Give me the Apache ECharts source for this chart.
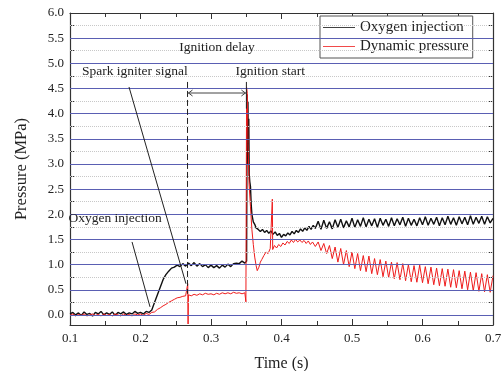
<!DOCTYPE html>
<html><head><meta charset="utf-8">
<script src="https://cdn.jsdelivr.net/npm/echarts@6/dist/echarts.min.js"></script>
<style>html,body{margin:0;padding:0;background:#fff}#c{width:504px;height:371px}</style>
</head><body><div id="c"></div>
<script>
// ---- data ----
const seriesNames = ['Oxygen injection', 'Dynamic pressure'];
const yMajorTicks = [0, 0.5, 1.0, 1.5, 2.0, 2.5, 3.0, 3.5, 4.0, 4.5, 5.0, 5.5, 6.0];
const yMinorTicks = [0.25, 0.75, 1.25, 1.75, 2.25, 2.75, 3.25, 3.75, 4.25, 4.75, 5.25, 5.75];
const xRange = [0.1, 0.7];
const yRange = [-0.2, 6.0];

const oxygenInjection = [
[0.100,0.02],[0.104,0.05],[0.108,0.00],[0.112,0.04],[0.116,-0.01],[0.120,0.06],[0.124,0.01],[0.128,0.03],[0.132,-0.02],[0.136,0.05],
[0.140,0.02],[0.144,0.07],[0.148,0.00],[0.152,0.04],[0.156,0.01],[0.160,0.06],[0.164,-0.01],[0.168,0.05],[0.172,0.02],[0.176,0.06],
[0.180,0.01],[0.184,0.04],[0.188,0.02],[0.192,0.07],[0.196,0.03],[0.200,0.05],[0.204,0.02],[0.208,0.07],[0.212,0.05],[0.216,0.10],
[0.220,0.25],[0.224,0.40],[0.228,0.55],[0.232,0.70],[0.236,0.80],[0.240,0.87],[0.244,0.93],[0.248,0.95],[0.252,0.99],[0.256,0.96],
[0.260,1.02],[0.264,0.97],[0.268,1.03],[0.272,0.98],[0.276,1.04],[0.280,0.97],[0.284,1.02],[0.288,0.96],[0.292,1.00],[0.296,0.94],
[0.300,0.99],[0.304,0.94],[0.308,0.98],[0.312,0.93],[0.316,0.99],[0.320,0.95],[0.324,1.01],[0.328,0.96],[0.332,1.02],[0.336,1.03],
[0.340,1.02],[0.344,1.07],[0.348,1.03],[0.3505,1.07],[0.3512,4.38],[0.3518,3.2],[0.3524,4.25],[0.3530,3.0],[0.3536,3.9],[0.3542,2.8],
[0.3550,2.65],[0.3560,2.55],[0.3570,2.2],[0.3580,2.0],[0.360,1.85],[0.362,1.80],[0.364,1.73],[0.367,1.70],[0.370,1.66],[0.373,1.70],
[0.376,1.64],[0.379,1.68],[0.382,1.62],[0.385,1.67],[0.388,1.60],[0.391,1.65],[0.394,1.58],[0.397,1.62],[0.400,1.54],[0.403,1.60],
[0.406,1.57],[0.409,1.63],[0.412,1.59],[0.415,1.66],[0.418,1.61],[0.421,1.68],[0.424,1.64],[0.427,1.71],[0.430,1.66],[0.433,1.73],
[0.436,1.68],[0.439,1.76],[0.442,1.70],[0.445,1.78],[0.448,1.72],
[0.452,1.86],[0.456,1.70],[0.460,1.88],[0.464,1.72],[0.468,1.85],[0.472,1.71],[0.476,1.89],[0.480,1.74],[0.484,1.90],[0.488,1.73],
[0.492,1.87],[0.496,1.75],[0.500,1.92],[0.504,1.74],[0.508,1.89],[0.512,1.76],[0.516,1.93],[0.520,1.75],[0.524,1.90],[0.528,1.77],
[0.532,1.91],[0.536,1.74],[0.540,1.92],[0.544,1.78],[0.548,1.90],[0.552,1.76],[0.556,1.93],[0.560,1.77],[0.564,1.91],[0.568,1.79],
[0.572,1.94],[0.576,1.76],[0.580,1.92],[0.584,1.78],[0.588,1.90],[0.592,1.77],[0.596,1.93],[0.600,1.79],[0.604,1.95],[0.608,1.78],
[0.612,1.92],[0.616,1.80],[0.620,1.94],[0.624,1.77],[0.628,1.93],[0.632,1.79],[0.636,1.96],[0.640,1.80],[0.644,1.93],[0.648,1.78],
[0.652,1.95],[0.656,1.81],[0.660,1.94],[0.664,1.79],[0.668,1.97],[0.672,1.80],[0.676,1.94],[0.680,1.82],[0.684,1.96],[0.688,1.80],
[0.692,1.95],[0.696,1.83],[0.700,1.92]
];

const dynamicPressure = [
[0.100,-0.01],[0.104,0.02],[0.108,-0.02],[0.112,0.01],[0.116,-0.01],[0.120,0.02],[0.124,-0.02],[0.128,0.00],[0.132,0.02],[0.136,-0.01],
[0.140,0.01],[0.144,-0.02],[0.148,0.02],[0.152,-0.01],[0.156,0.01],[0.160,-0.02],[0.164,0.02],[0.168,0.00],[0.172,-0.02],[0.176,0.02],
[0.180,-0.01],[0.184,0.01],[0.188,-0.02],[0.192,0.02],[0.196,0.00],[0.200,0.02],[0.204,-0.01],[0.208,0.03],[0.212,0.01],[0.216,0.05],
[0.220,0.06],[0.224,0.11],[0.228,0.14],[0.232,0.18],[0.236,0.21],[0.240,0.25],[0.244,0.28],[0.248,0.31],[0.252,0.34],[0.256,0.35],
[0.260,0.37],[0.264,0.38],[0.2665,0.39],[0.2670,0.62],[0.2675,-0.18],[0.2680,0.40],[0.272,0.38],[0.276,0.41],[0.280,0.39],[0.284,0.42],
[0.288,0.40],[0.292,0.43],[0.296,0.41],[0.300,0.42],[0.304,0.40],[0.308,0.43],[0.312,0.41],[0.316,0.44],[0.320,0.42],[0.324,0.44],
[0.328,0.42],[0.332,0.45],[0.336,0.43],[0.340,0.44],[0.344,0.42],[0.348,0.44],[0.3495,0.26],[0.3505,4.52],[0.3515,4.40],[0.3525,3.4],
[0.354,2.6],[0.356,2.15],[0.358,1.7],[0.360,1.4],[0.362,1.15],[0.364,0.98],[0.3656,0.88],[0.368,0.95],[0.370,1.05],[0.372,1.10],
[0.375,1.18],[0.378,1.25],[0.381,1.22],[0.384,1.32],[0.3865,1.30],[0.3870,2.30],[0.3875,1.30],[0.390,1.38],[0.393,1.33],[0.396,1.40],
[0.399,1.36],[0.402,1.43],[0.405,1.39],[0.408,1.46],[0.411,1.42],[0.414,1.49],[0.417,1.44],[0.420,1.50],[0.423,1.45],[0.426,1.49],
[0.429,1.44],[0.432,1.48],[0.435,1.42],[0.438,1.47],[0.441,1.40],[0.444,1.45],[0.448,1.36],
[0.452,1.45],[0.456,1.28],[0.460,1.42],[0.464,1.22],[0.468,1.38],[0.472,1.12],[0.476,1.35],[0.480,1.05],[0.484,1.32],[0.488,1.00],
[0.492,1.28],[0.496,0.96],[0.500,1.25],[0.504,0.92],[0.508,1.22],[0.512,0.88],[0.516,1.18],[0.520,0.86],[0.524,1.17],[0.528,0.82],
[0.532,1.12],[0.536,0.80],[0.540,1.10],[0.544,0.76],[0.548,1.07],[0.552,0.74],[0.556,1.05],[0.560,0.72],[0.564,1.04],[0.568,0.70],
[0.572,1.02],[0.576,0.68],[0.580,1.00],[0.584,0.66],[0.588,0.98],[0.592,0.65],[0.596,0.99],[0.600,0.64],[0.604,0.96],[0.608,0.62],
[0.612,0.95],[0.616,0.60],[0.620,0.93],[0.624,0.58],[0.628,0.92],[0.632,0.57],[0.636,0.91],[0.640,0.55],[0.644,0.90],[0.648,0.54],
[0.652,0.88],[0.656,0.52],[0.660,0.87],[0.664,0.50],[0.668,0.85],[0.672,0.48],[0.676,0.84],[0.680,0.47],[0.684,0.82],[0.688,0.46],
[0.692,0.80],[0.696,0.45],[0.700,0.78]
];

// annotations (data coordinates)
const annotationTexts = [
  {text: 'Ignition delay', at: [0.3085, 5.32]},
  {text: 'Spark igniter signal', at: [0.192, 4.83]},
  {text: 'Ignition start', at: [0.384, 4.83]},
  {text: 'Oxygen injection', at: [0.164, 1.91]}
];
const leaderLines = [
  {from: [0.1837, 4.53], to: [0.2645, 0.62], dashed: false},
  {from: [0.188, 1.45], to: [0.2135, 0.16], dashed: false},
  {from: [0.2667, 4.63], to: [0.2667, 0.42], dashed: true},
  {from: [0.3502, 4.63], to: [0.3502, 4.1], dashed: false}
];
const delayArrow = {from: [0.2667, 4.41], to: [0.3502, 4.41]};

// ---- chart ----
const FONT = 'Liberation Serif';
const chart = echarts.init(document.getElementById('c'), null, {renderer: 'canvas'});
const axisCol = '#333';
function yAx(pos, vals, len, labels, line) {
  return {
    type: 'value', position: pos, min: yRange[0], max: yRange[1], offset: 0,
    axisLine: {show: line, onZero: false, lineStyle: {color: axisCol, width: 1.2}},
    axisTick: {show: true, inside: true, length: len, customValues: vals, lineStyle: {color: axisCol}},
    axisLabel: labels ? {show: true, customValues: vals, formatter: v => v.toFixed(1), fontFamily: FONT, fontSize: 13, color: '#222', margin: 6} : {show: false},
    splitLine: {show: false}, minorTick: {show: false},
    name: labels ? 'Pressure (MPa)' : '', nameLocation: 'middle', nameGap: 40,
    nameTextStyle: {fontFamily: FONT, fontSize: 16.5, color: '#222'}
  };
}
function xAx(pos, labels) {
  return {
    type: 'value', position: pos, min: xRange[0], max: xRange[1], interval: 0.1,
    axisLine: {show: true, onZero: false, lineStyle: {color: axisCol, width: 1.2}},
    axisTick: {show: true, inside: true, length: 6, lineStyle: {color: axisCol}},
    minorTick: {show: true, splitNumber: 2, length: 4, lineStyle: {color: axisCol}},
    axisLabel: labels ? {show: true, formatter: v => v.toFixed(1), fontFamily: FONT, fontSize: 13, color: '#222', margin: 7} : {show: false},
    splitLine: {show: false},
    name: labels ? 'Time (s)' : '', nameLocation: 'middle', nameGap: 31,
    nameTextStyle: {fontFamily: FONT, fontSize: 16, color: '#222'}
  };
}
const majorGrid = yMajorTicks.filter(v => v < 6).map(v => ({yAxis: v}));
const minorGrid = yMinorTicks.map(v => ({yAxis: v}));
const legendIcon = 'path://M0,0 L40,0 L40,1 L0,1 Z';

chart.setOption({
  animation: false,
  backgroundColor: '#fff',
  grid: {left: 70, right: 11, top: 13, bottom: 46, containLabel: false, outerBoundsMode: 'none'},
  xAxis: [xAx('bottom', true), xAx('top', false)],
  yAxis: [yAx('left', yMajorTicks, 6, true, true), yAx('left', yMinorTicks, 4, false, false),
          yAx('right', yMajorTicks, 6, false, true), yAx('right', yMinorTicks, 4, false, false)],
  legend: {
    data: seriesNames.map(n => ({name: n, icon: legendIcon})),
    orient: 'vertical', left: 320, top: 16,
    itemWidth: 32, itemHeight: 1.2, itemGap: 0, padding: [2, 4, 2, 3],
    borderColor: '#555', borderWidth: 1, backgroundColor: '#fff',
    textStyle: {fontFamily: FONT, fontSize: 15, color: '#222', lineHeight: 19}
  },
  series: [
    {type: 'line', name: '_grid', data: [], silent: true, z: 1,
     markLine: {silent: true, symbol: ['none', 'none'], label: {show: false}, animation: false,
       data: minorGrid, lineStyle: {color: '#c8c8c8', type: 'dotted', width: 1}}},
    {type: 'line', name: '_grid2', data: [], silent: true, z: 1,
     markLine: {silent: true, symbol: ['none', 'none'], label: {show: false}, animation: false,
       data: majorGrid, lineStyle: {color: '#5a5fb3', type: 'solid', width: 1}}},
    {type: 'line', name: seriesNames[0], data: oxygenInjection, symbol: 'none', z: 3,
     lineStyle: {color: '#111', width: 1.4}, itemStyle: {color: '#111'}},
    {type: 'line', name: seriesNames[1], data: dynamicPressure, symbol: 'none', z: 4,
     lineStyle: {color: '#ee1c1c', width: 1}, itemStyle: {color: '#ee1c1c'}}
  ]
});

// annotations drawn in data coordinates
const px = p => chart.convertToPixel({gridIndex: 0}, p);
const g = [];
annotationTexts.forEach(a => {
  const p = px(a.at);
  g.push({type: 'text', x: p[0], y: p[1], z: 20,
    style: {text: a.text, fontFamily: FONT, fontSize: 13.5, fill: '#222', align: 'center', verticalAlign: 'middle'}});
});
leaderLines.forEach(l => {
  const a = px(l.from), b = px(l.to);
  g.push({type: 'line', z: 20, shape: {x1: a[0], y1: a[1], x2: b[0], y2: b[1]},
    style: {stroke: '#222', lineWidth: 1, lineDash: l.dashed ? [6, 3] : null}});
});
{
  const a = px(delayArrow.from), b = px(delayArrow.to);
  g.push({type: 'line', z: 20, shape: {x1: a[0], y1: a[1], x2: b[0], y2: b[1]}, style: {stroke: '#444', lineWidth: 1}});
  g.push({type: 'polyline', z: 20, shape: {points: [[a[0] + 5, a[1] - 3], [a[0] + 1, a[1]], [a[0] + 5, a[1] + 3]]}, style: {stroke: '#444', fill: null, lineWidth: 1}});
  g.push({type: 'polyline', z: 20, shape: {points: [[b[0] - 5, b[1] - 3], [b[0] - 1, b[1]], [b[0] - 5, b[1] + 3]]}, style: {stroke: '#444', fill: null, lineWidth: 1}});
}
chart.setOption({graphic: g});
</script></body></html>
